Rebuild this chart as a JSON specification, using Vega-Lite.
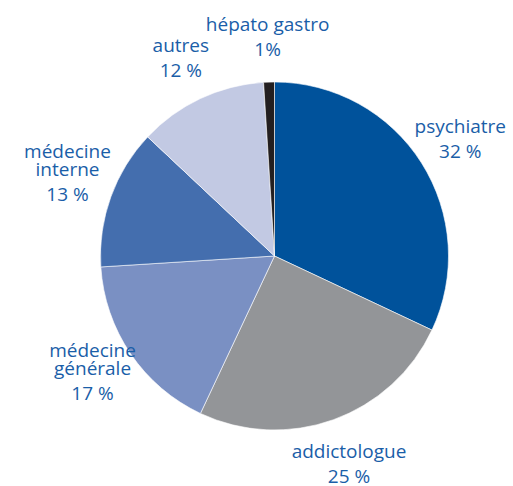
{
  "$schema": "https://vega.github.io/schema/vega-lite/v6.json",
  "autosize": "none",
  "width": 477,
  "height": 460,
  "padding": {"left": 36, "top": 26, "right": 0, "bottom": 0},
  "background": "white",
  "view": {"stroke": null},
  "data": {
    "values": [
      {"rang": 1, "cat": "psychiatre", "nom": "\npsychiatre", "pct": "32 %", "valeur": 32},
      {"rang": 2, "cat": "addictologue", "nom": "\naddictologue", "pct": "25 %", "valeur": 25},
      {"rang": 3, "cat": "médecine générale", "nom": "médecine\ngénérale", "pct": "17 %", "valeur": 17},
      {"rang": 4, "cat": "médecine interne", "nom": "médecine\ninterne", "pct": "13 %", "valeur": 13},
      {"rang": 5, "cat": "autres", "nom": "\nautres", "pct": "12 %", "valeur": 12},
      {"rang": 6, "cat": "hépato gastro", "nom": "\nhépato gastro", "pct": "1%", "valeur": 1}
    ]
  },
  "encoding": {
    "theta": {"field": "valeur", "type": "quantitative", "stack": true},
    "order": {"field": "rang", "type": "quantitative", "sort": "ascending"}
  },
  "layer": [
    {
      "mark": {"type": "arc", "outerRadius": 174, "stroke": "white", "strokeWidth": 0.6},
      "encoding": {
        "color": {
          "field": "cat",
          "type": "nominal",
          "legend": null,
          "scale": {
            "domain": ["psychiatre", "addictologue", "médecine générale", "médecine interne", "autres", "hépato gastro"],
            "range": ["#00529b", "#939598", "#7a90c3", "#446eae", "#c2c9e3", "#231f20"]
          }
        }
      }
    },
    {
      "mark": {"type": "text", "radius": 220, "baseline": "bottom", "dy": -19, "lineBreak": "\n", "font": "Open Sans", "fontSize": 19, "color": "#1a5ea8", "lineHeight": 18},
      "encoding": {"text": {"field": "nom"}}
    },
    {
      "mark": {"type": "text", "radius": 220, "baseline": "top", "dy": 5, "font": "Open Sans", "fontSize": 19, "color": "#1a5ea8"},
      "encoding": {"text": {"field": "pct"}}
    }
  ]
}
